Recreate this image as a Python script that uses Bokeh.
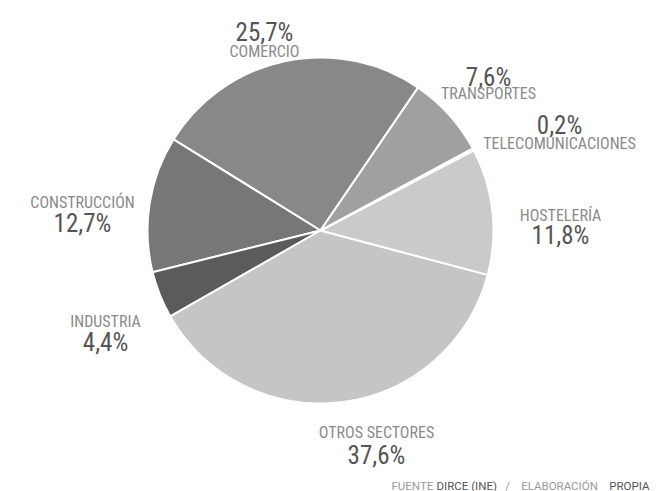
import numpy as np
from bokeh.plotting import figure
from bokeh.models import ColumnDataSource, Range1d
from bokeh.core.properties import value
from bokeh.embed import file_html
from bokeh.resources import INLINE

# ---- data ----
sectors = ["COMERCIO", "CONSTRUCCIÓN", "INDUSTRIA", "OTROS SECTORES",
           "HOSTELERÍA", "TELECOMUNICACIONES", "TRANSPORTES"]
shares = [25.7, 12.7, 4.4, 37.6, 11.8, 0.2, 7.6]
labels_pct = ["25,7%", "12,7%", "4,4%", "37,6%", "11,8%", "0,2%", "7,6%"]
palette = ["#88888b", "#77777a", "#5b5b5e", "#c5c5c7", "#c9cacc", "#b0b0b2", "#a0a0a3"]

# ---- layout ----
W, H = 664, 491
CX, CY, R = 320, 261, 173
START_DEG = 55.7
FONT = "'Roboto Condensed', Roboto"

# label layout: (x center, pct baseline, name baseline)  in data units
label_pos = {
    "COMERCIO": (264, 459, 440),
    "CONSTRUCCIÓN": (82, 268, 289),
    "INDUSTRIA": (105, 149, 170),
    "OTROS SECTORES": (376, 36, 59),
    "HOSTELERÍA": (560, 256, 276),
    "TELECOMUNICACIONES": (559, 366, 348),
    "TRANSPORTES": (488, 414, 398),
}

fr = np.array(shares) / sum(shares)
ends = np.deg2rad(START_DEG) + 2 * np.pi * np.cumsum(fr)
starts = ends - 2 * np.pi * fr

src = ColumnDataSource(dict(start=starts, end=ends, color=palette, name=sectors))

p = figure(width=W, height=H, output_backend="svg", toolbar_location=None,
           x_range=Range1d(0, W), y_range=Range1d(0, H), min_border=0)
p.axis.visible = False
p.grid.visible = False
p.outline_line_color = None
p.background_fill_color = "white"
p.border_fill_color = "white"

p.wedge(x=CX, y=CY, radius=R, start_angle="start", end_angle="end",
        fill_color="color", line_color="white", line_width=2, source=src)

lx, lpy, lny = [], [], []
for s in sectors:
    x, py, ny = label_pos[s]
    lx.append(x); lpy.append(py); lny.append(ny)

p.text(x=lx, y=lpy, text=labels_pct, text_font=value(FONT), text_font_size="25px",
       text_color="#555555", text_align="center", text_baseline="alphabetic")
p.text(x=lx, y=lny, text=sectors, text_font=value(FONT), text_font_size="16px",
       text_color="#8a8a8a", text_align="center", text_baseline="alphabetic")

# footer (source note)
foot_parts = ["FUENTE", "DIRCE (INE)", "/", "ELABORACIÓN", "PROPIA"]
foot_x = [391, 436, 507, 559, 649]
foot_align = ["left", "left", "center", "center", "right"]
foot_col = ["#9a9a9a", "#555555", "#9a9a9a", "#9a9a9a", "#555555"]
p.text(x=foot_x, y=[6] * 5, text=foot_parts, text_font=value("Roboto"),
       text_font_size="11.5px", text_color=foot_col, text_align=foot_align,
       text_baseline="alphabetic")

open("out.html", "w").write(file_html(p, INLINE))
